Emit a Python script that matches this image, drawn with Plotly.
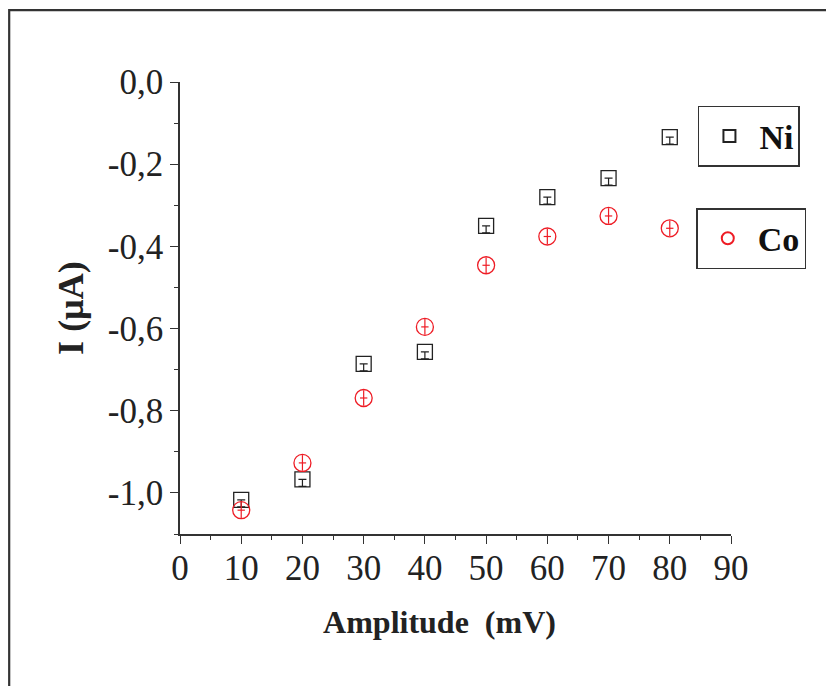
import plotly.graph_objects as go

amplitude = [10, 20, 30, 40, 50, 60, 70, 80]
ni_current = [-1.017, -0.967, -0.686, -0.657, -0.350, -0.280, -0.234, -0.134]
co_current = [-1.042, -0.927, -0.769, -0.596, -0.446, -0.376, -0.326, -0.356]
ni_err_minus = [0.017] * 8
co_err = [0.019] * 8
co_err_x = [0.6] * 8
y_ticks = [0.0, -0.2, -0.4, -0.6, -0.8, -1.0]
y_tick_labels = ["0,0", "-0,2", "-0,4", "-0,6", "-0,8", "-1,0"]
x_ticks = [0, 10, 20, 30, 40, 50, 60, 70, 80, 90]

BLACK = "#222222"
RED = "#ee1c25"
SERIF = "Liberation Serif, Times New Roman, serif"

fig = go.Figure()
fig.add_trace(go.Scatter(
    x=amplitude, y=ni_current, mode="markers", name="<b>Ni</b>",
    marker=dict(symbol="square-open", size=15, color=BLACK, line=dict(width=1.3, color=BLACK)),
    error_y=dict(type="data", symmetric=False, array=[0] * 8, arrayminus=ni_err_minus,
                 color=BLACK, thickness=1.2, width=4),
    legend="legend", showlegend=True,
))
fig.add_trace(go.Scatter(
    x=amplitude, y=co_current, mode="markers", name="<b>Co</b>",
    marker=dict(symbol="circle-open", size=17, color=RED, line=dict(width=1.3, color=RED)),
    error_y=dict(type="data", array=co_err, color=RED, thickness=1.2, width=0),
    error_x=dict(type="data", array=co_err_x, color=RED, thickness=1.2, width=0),
    legend="legend2", showlegend=True,
))

axis_common = dict(
    showline=True, linecolor="#333333", linewidth=1.6, ticks="outside", ticklen=8,
    tickwidth=1.4, tickcolor="#333333", showgrid=False, zeroline=False, mirror=False,
    tickfont=dict(family=SERIF, size=35, color="#222222"),
)

legend_common = dict(
    xanchor="left", yanchor="top", bordercolor="#333333", borderwidth=1.5,
    font=dict(family=SERIF, size=34, color="#111111"), itemwidth=50, bgcolor="white",
    itemsizing="constant",
)

fig.update_layout(
    width=826, height=678,
    margin=dict(l=172, r=103, t=74, b=152, autoexpand=False),
    paper_bgcolor="white", plot_bgcolor="white",
    showlegend=True,
    xaxis=dict(range=[0, 90], tickvals=x_ticks,
               minor=dict(dtick=5, ticks="outside", ticklen=4, tickcolor="#333333"),
               ticklabelstandoff=-6,
               title=dict(text="<b>Amplitude  (mV)</b>&nbsp;&nbsp;&nbsp;&nbsp;",
                          font=dict(family=SERIF, size=32, color="#222222"), standoff=24),
               **axis_common),
    yaxis=dict(range=[-1.1, 0], tickvals=y_ticks, ticktext=y_tick_labels,
               minor=dict(dtick=0.1, ticks="outside", ticklen=4, tickcolor="#333333"),
               title=dict(text="<b>I (µA)</b>", font=dict(family=SERIF, size=36, color="#222222"), standoff=13),
               **axis_common),
    legend=dict(x=0.94, y=0.947, **legend_common),
    legend2=dict(x=0.937, y=0.721, **legend_common),
    shapes=[dict(type="rect", xref="paper", yref="paper", x0=-0.310, x1=1.4, y0=-0.5, y1=1.159,
                 line=dict(color="#333333", width=2.2), fillcolor="rgba(0,0,0,0)", layer="below")],
)

fig.write_html("out.html")
